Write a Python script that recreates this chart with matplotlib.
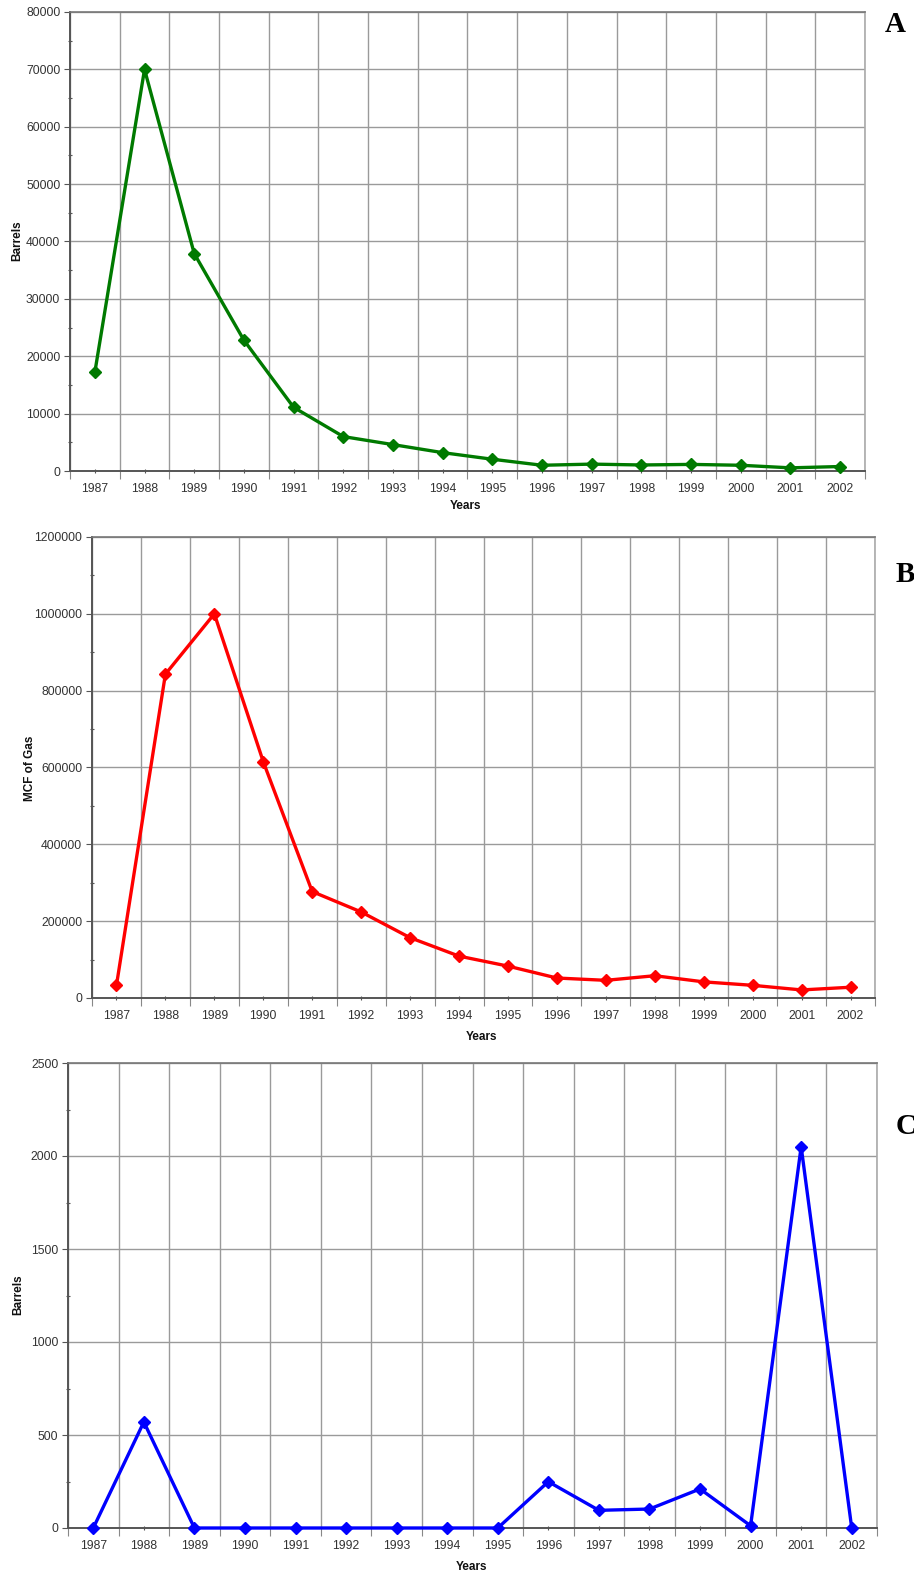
import matplotlib
matplotlib.use("Agg")
import matplotlib.pyplot as plt
from matplotlib.ticker import MultipleLocator, FixedLocator, FuncFormatter
import numpy as np

years = ["1987", "1988", "1989", "1990", "1991", "1992", "1993", "1994",
         "1995", "1996", "1997", "1998", "1999", "2000", "2001", "2002"]
oil_a = [17200, 70000, 37900, 22800, 11100, 6000, 4600, 3200,
         2050, 1000, 1200, 1050, 1150, 1000, 550, 780]
gas_b = [33000, 843000, 1000000, 615000, 277000, 224000, 157000, 109000,
         83000, 52000, 46000, 58000, 42000, 33000, 21000, 28000]
water_c = [0, 570, 0, 0, 0, 0, 0, 0, 0, 249, 95, 102, 210, 12, 2050, 0]

plt.rcParams['font.family'] = ['Liberation Sans', 'DejaVu Sans']

W, H = 914, 1577
fig = plt.figure(figsize=(W / 100, H / 100), dpi=100)


def make_axes(l, r, t, b):
    return fig.add_axes([l / W, 1 - b / H, (r - l) / W, (b - t) / H])


def fig_text(x, y, s, **kw):
    fig.text(x / W, 1 - y / H, s, **kw)


def style(ax, values, color, ymax, ystep):
    x = np.arange(len(years))
    ax.plot(x, values, color=color, lw=2.4, marker='D', ms=6.5, zorder=5, clip_on=False)
    ax.set_xlim(-0.5, len(years) - 0.5)
    ax.set_ylim(0, ymax)
    ax.xaxis.set_major_locator(FixedLocator(x))
    ax.set_xticklabels(years)
    ax.xaxis.set_minor_locator(FixedLocator(np.arange(-0.5, len(years), 1.0)))
    ax.tick_params(axis='x', which='major', length=3, direction='inout', width=0.8,
                   color='#555555', labelsize=8.7, labelcolor='#333333', pad=7)
    ax.tick_params(axis='x', which='minor', length=6, direction='out', width=0.8,
                   color='#888888')
    ax.yaxis.set_major_locator(MultipleLocator(ystep))
    ax.yaxis.set_minor_locator(MultipleLocator(ystep / 2))
    ax.yaxis.set_major_formatter(FuncFormatter(lambda v, p: f"{int(round(v))}"))
    ax.tick_params(axis='y', which='major', length=4, direction='out', width=0.8,
                   color='#555555', labelsize=8.7, labelcolor='#333333', pad=3)
    ax.tick_params(axis='y', which='minor', length=3, direction='inout', width=0.8,
                   color='#555555')
    ax.grid(True, axis='x', which='minor', color='#9a9a9a', lw=1.0)
    ax.grid(True, axis='y', which='major', color='#9a9a9a', lw=1.0)
    ax.set_axisbelow(True)
    for side in ['left', 'bottom']:
        ax.spines[side].set_color('#555555')
        ax.spines[side].set_linewidth(1.4)
    ax.spines['top'].set_color('#777777')
    ax.spines['top'].set_linewidth(1.2)
    ax.spines['right'].set_color('#aaaaaa')
    ax.spines['right'].set_linewidth(1.2)
    return ax


label_kw = dict(fontsize=8.5, fontweight='bold', ha='center', va='center', color='#111111')
letter_kw = dict(fontsize=21, fontweight='bold', ha='left', va='center',
                 family=['Liberation Serif', 'DejaVu Serif'], color='black')

# Panel A
axA = make_axes(70, 865, 12, 471)
style(axA, oil_a, '#007A00', 80000, 10000)
fig_text(17, 241, "Barrels", rotation=90, **label_kw)
fig_text(465, 506, "Years", **label_kw)
fig_text(885, 25, "A", **letter_kw)

# Panel B
axB = make_axes(92, 875, 537, 998)
style(axB, gas_b, '#FF0000', 1200000, 200000)
fig_text(30, 768, "MCF of Gas", rotation=90, **label_kw)
fig_text(482, 1037, "Years", **label_kw)
fig_text(896, 575, "B", **letter_kw)

# Panel C
axC = make_axes(68, 877, 1063, 1528)
style(axC, water_c, '#0000FF', 2500, 500)
fig_text(18, 1295, "Barrels", rotation=90, **label_kw)
fig_text(472, 1567, "Years", **label_kw)
fig_text(896, 1127, "C", **letter_kw)

fig.savefig("out.png", dpi=100)
